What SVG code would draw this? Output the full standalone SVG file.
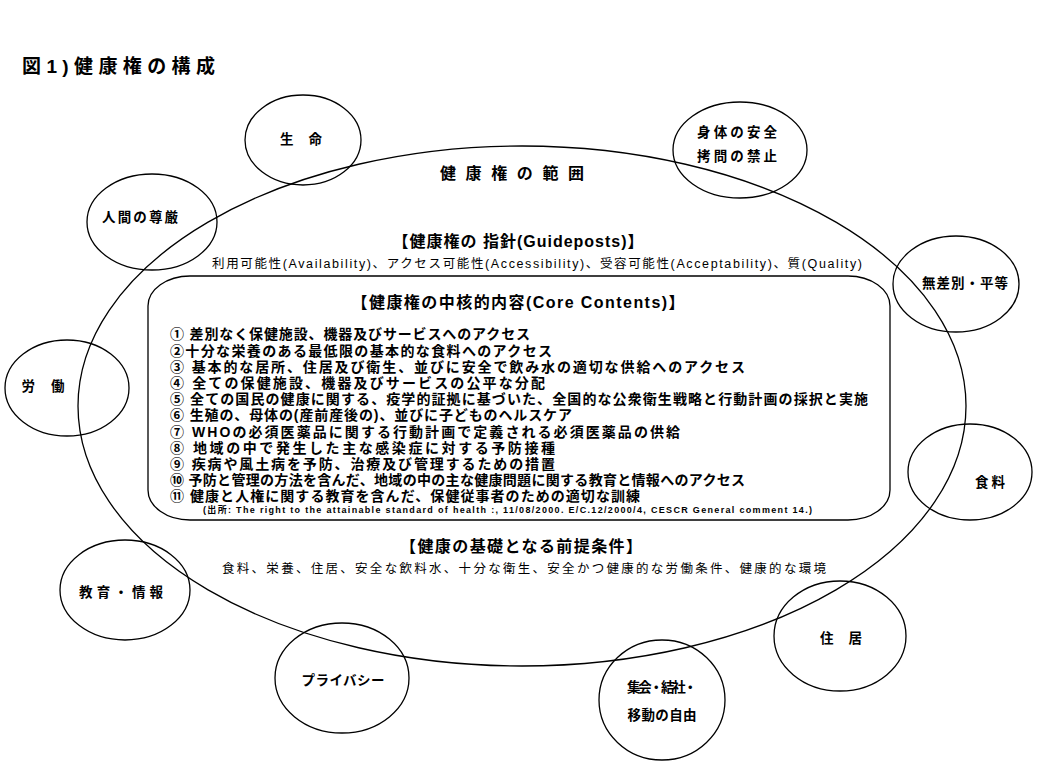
<svg xmlns="http://www.w3.org/2000/svg" width="1040" height="780" viewBox="0 0 1040 780">
<style>
text{font-family:'Liberation Sans','Noto Sans CJK JP',sans-serif;fill:#000;font-weight:bold}
.ln{fill:none;stroke:#000;stroke-width:1.3}
.c{text-anchor:middle;font-size:13.5px}
.li{font-size:14px}
.hd{text-anchor:middle;font-size:16px}
.pl{font-size:12.5px;font-weight:normal}
</style>
<rect width="1040" height="780" fill="#fff"/>
<text x="22" y="73" font-size="19" textLength="193">図1)健康権の構成</text>
<g id="scope">
<ellipse class="ln" cx="522" cy="406" rx="444" ry="260"/>
<text x="512" y="179" class="hd" font-size="17" textLength="144">健康権の範囲</text>
</g>
<g id="guideposts">
<text x="518" y="247" class="hd" textLength="251">【健康権の 指針(Guideposts)】</text>
<text x="212" y="268" class="pl" textLength="650">利用可能性(Availability)、アクセス可能性(Accessibility)、受容可能性(Acceptability)、質(Quality)</text>
</g>
<g id="core">
<rect class="ln" x="148" y="276" width="742" height="244" rx="42" ry="30"/>
<text x="518" y="308" class="hd" textLength="333">【健康権の中核的内容(Core Contents)】</text>
<text x="170" y="339" class="li" textLength="360">① 差別なく保健施設、機器及びサービスへのアクセス</text>
<text x="170" y="356" class="li" textLength="382">②十分な栄養のある最低限の基本的な食料へのアクセス</text>
<text x="170" y="372" class="li" textLength="575">③ 基本的な居所、住居及び衛生、並びに安全で飲み水の適切な供給へのアクセス</text>
<text x="170" y="388" class="li" textLength="375">④ 全ての保健施設、機器及びサービスの公平な分配</text>
<text x="170" y="404" class="li" textLength="698">⑤ 全ての国民の健康に関する、疫学的証拠に基づいた、全国的な公衆衛生戦略と行動計画の採択と実施</text>
<text x="170" y="420" class="li" textLength="402">⑥ 生殖の、母体の(産前産後の)、並びに子どものヘルスケア</text>
<text x="170" y="437" class="li" textLength="510">⑦ WHOの必須医薬品に関する行動計画で定義される必須医薬品の供給</text>
<text x="170" y="453" class="li" textLength="385">⑧ 地域の中で発生した主な感染症に対する予防接種</text>
<text x="170" y="469" class="li" textLength="385">⑨ 疾病や風土病を予防、治療及び管理するための措置</text>
<text x="170" y="485" class="li" textLength="575">⑩ 予防と管理の方法を含んだ、地域の中の主な健康問題に関する教育と情報へのアクセス</text>
<text x="170" y="501" class="li" textLength="470">⑪ 健康と人権に関する教育を含んだ、保健従事者のための適切な訓練</text>
<text x="203" y="513" font-size="9" textLength="609">(出所: The right to the attainable standard of health :, 11/08/2000. E/C.12/2000/4, CESCR General comment 14.)</text>
</g>
<g id="preconditions">
<text x="521" y="552" class="hd" textLength="242">【健康の基礎となる前提条件】</text>
<text x="222" y="573" class="pl" textLength="604">食料、栄養、住居、安全な飲料水、十分な衛生、安全かつ健康的な労働条件、健康的な環境</text>
</g>
<g id="n-life"><ellipse class="ln" cx="303" cy="140" rx="58" ry="45"/><text x="301" y="144" class="c" textLength="42">生 命</text></g>
<g id="n-body"><ellipse class="ln" cx="740" cy="150" rx="67" ry="48"/><text x="737" y="137" class="c" textLength="80">身体の安全</text><text x="737" y="161" class="c" textLength="80">拷問の禁止</text></g>
<g id="n-dignity"><ellipse class="ln" cx="152" cy="222" rx="65" ry="48"/><text x="140" y="222" class="c" textLength="76">人間の尊厳</text></g>
<g id="n-equality"><ellipse class="ln" cx="956" cy="284" rx="63" ry="48"/><text x="965" y="288" class="c" textLength="86">無差別・平等</text></g>
<g id="n-labor"><ellipse class="ln" cx="67" cy="388" rx="62" ry="48"/><text x="43" y="391" class="c" textLength="43">労 働</text></g>
<g id="n-food"><ellipse class="ln" cx="970" cy="472" rx="62" ry="48"/><text x="990" y="487" class="c" textLength="30">食料</text></g>
<g id="n-edu"><ellipse class="ln" cx="125" cy="590" rx="65" ry="50"/><text x="121" y="597" class="c" textLength="84">教育・情報</text></g>
<g id="n-housing"><ellipse class="ln" cx="840" cy="636" rx="66" ry="55"/><text x="841" y="643" class="c" textLength="42">住 居</text></g>
<g id="n-privacy"><ellipse class="ln" cx="342" cy="678" rx="67" ry="55"/><text x="343" y="685" class="c" textLength="83">プライバシー</text></g>
<g id="n-assembly"><ellipse class="ln" cx="662" cy="700" rx="63" ry="60"/><text x="662" y="692" class="c" textLength="70">集会・結社・</text><text x="662" y="720" class="c" textLength="69">移動の自由</text></g>
</svg>
